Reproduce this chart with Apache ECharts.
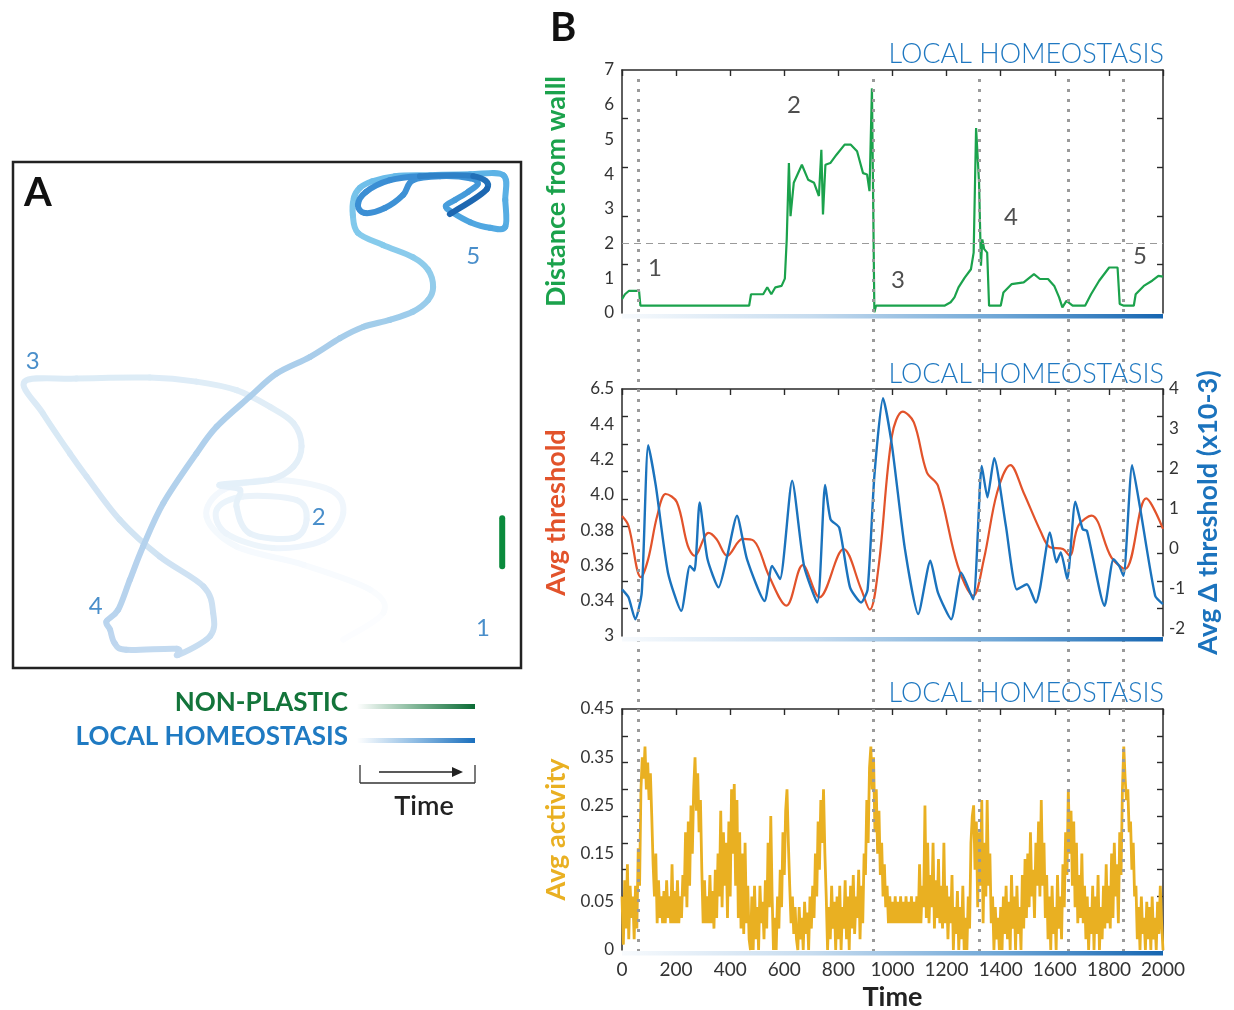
<!DOCTYPE html>
<html><head><meta charset="utf-8">
<script src="https://cdn.jsdelivr.net/npm/echarts@6/dist/echarts.min.js"></script>
<style>html,body{margin:0;padding:0;background:#fff}#c{width:1234px;height:1010px}</style>
</head><body><div id="c"></div>
<script>
// ---------- DATA ----------
// Panel A: trajectory in arena units (0..100), in time order
const trajX = [65.0,72.9,70.3,57.2,44.0,38.1,41.4,51.2,62.4,65.0,61.1,51.2,42.0,40.1,45.3,55.8,57.8,55.2,46.6,44.0,44.7,40.7,50.6,55.2,56.8,55.2,50.6,44.0,36.1,26.9,12.5,2.3,
  5.9,11.2,14.5,21.0,28.9,37.5,39.4,38.8,32.5,32.2,22.3,20.0,19.1,18.4,
  20.7,23.0,25.6,29.6,36.1,40.1,46.6,51.9,58.5,64.4,68.9,74.2,78.7,81.7,82.7,81.7,78.7,72.8,67.9,
  66.9,67.1,68.3,70.7,75.2,82.1,90.0,96.5,96.9,96.9,93.9,90.0,86.4,85.2,87.0,89.6,91.5,90.0,84.1,78.7,76.8,73.2,69.3,67.9,69.5,74.2,80.1,90.6,93.3,86.0];
const trajY = [5.6,10.9,15.5,20.4,24.0,29.9,35.2,37.2,35.2,30.6,25.3,23.7,26.6,31.3,33.9,33.2,29.3,25.7,26.6,31.9,35.2,36.2,37.2,39.8,43.8,48.4,51.6,54.9,56.6,57.4,57.2,56.6,
  50.3,42.4,37.8,29.3,22.0,16.1,10.9,6.3,2.6,3.8,3.6,4.9,7.6,9.2,
  11.5,17.4,24.0,32.6,42.4,47.7,53.6,58.2,61.5,65.2,67.4,68.8,70.4,72.7,75.3,78.7,81.2,83.6,86.0,
  89.5,92.9,94.9,96.2,97.2,97.4,97.6,97.4,92.5,87.2,87.0,88.1,90.1,91.3,92.5,94.1,95.7,96.8,97.2,96.4,93.5,90.9,89.9,91.5,94.1,96.4,97.2,97.2,94.7,89.7];
const plasticX = [96.3,96.3];
const plasticY = [29.6,20.1];
const arenaLabelX = [92.5,60.2,3.9,16.3,90.6];
const arenaLabelY = [7.9,29.8,60.6,12.2,81.4];
const phaseNames = ['1','2','3','4','5'];

// Panel B1: distance from wall
const distT = [0,11,26,63,68,364,368,372,378,470,477,522,537,552,567,590,602,609,617,623,635,665,688,710,728,737,743,752,770,793,823,846,869,891,906,915,924,933,939,1192,1215,1229,1244,1267,1290,1300,1309,1320,1327,1332,1339,1350,1357,1400,1410,1440,1485,1523,1545,1575,1598,1616,1628,1643,1666,1712,1734,1764,1801,1832,1840,1855,1892,1899,1929,1960,1983,2000];
const distV = [0.40,0.54,0.64,0.64,0.21,0.21,0.26,0.21,0.21,0.21,0.54,0.54,0.74,0.54,0.74,0.78,0.99,2.12,4.32,2.79,3.75,4.27,3.84,3.75,3.37,4.70,2.84,4.27,4.32,4.56,4.85,4.85,4.66,4.03,3.99,3.51,6.47,0.02,0.21,0.21,0.31,0.45,0.74,1.02,1.26,1.74,5.33,3.75,1.36,2.12,1.84,1.74,0.21,0.21,0.59,0.83,0.88,1.12,0.98,0.98,0.78,0.45,0.16,0.35,0.21,0.21,0.54,0.93,1.31,1.31,0.26,0.21,0.21,0.54,0.78,0.93,1.07,1.05];
const wallThreshold = 2;
const phaseT = [122,636,1020,1438,1915];
const phaseV = [1.30,5.99,0.95,2.77,1.64];

// Panel B2: avg threshold (left) and avg delta threshold (right)
const thrT = [0,24,70,97,130,162,203,243,268,320,349,389,446,487,543,608,668,730,819,884,916,949,998,1038,1079,1127,1168,1241,1298,1338,1387,1436,1484,1549,1582,1630,1655,1687,1736,1809,1860,1938,2000];
const thrV = [3.88,3.825,3.533,3.637,3.88,4.005,3.958,3.712,3.655,3.784,3.75,3.655,3.75,3.74,3.542,3.372,3.602,3.419,3.693,3.466,3.349,3.599,4.335,4.472,4.411,4.128,4.052,3.599,3.428,3.637,4.015,4.169,4.015,3.788,3.703,3.693,3.655,3.825,3.882,3.646,3.58,3.98,3.807];
const dThrT = [0,24,49,73,97,125,170,219,251,268,287,316,357,389,425,462,527,555,584,629,673,722,751,771,803,843,884,908,933,965,998,1046,1095,1140,1168,1217,1254,1298,1330,1351,1376,1419,1460,1497,1530,1546,1582,1606,1622,1646,1676,1703,1719,1784,1817,1838,1854,1886,1914,1971,2000];
const dThrV = [-1.03,-1.23,-1.78,-1.11,2.59,1.57,-0.61,-1.57,-0.44,-0.56,1.15,-0.27,-0.98,-0.19,0.82,-0.27,-1.32,-0.44,-0.77,1.70,-0.44,-1.36,1.59,0.73,0.52,-0.98,-1.36,-1.03,1.82,3.77,2.58,-0.02,-1.65,-0.31,-1.11,-1.78,-0.61,-1.28,2.07,1.28,2.26,0.57,-1.03,-0.90,-1.36,-0.98,0.40,-0.35,-0.10,-0.77,1.17,0.48,0.44,-1.44,-0.27,-0.44,-0.69,2.09,1.07,-1.19,-1.40];
const thrTickLabels = ['3','0.34','0.36','0.38','4.0','4.2','4.4','6.5'];
const dThrTickLabels = ['-2','-1','0','1','2','3','4'];

// Panel B3: avg activity, sampled every 5 time steps (t = 0..2000)
const actStep = 5;
const actV = [
0.10,0.01,0.13,0.04,0.16,0.02,0.12,0.06,0.10,0.02,
0.12,0.04,0.19,0.12,0.30,0.36,0.32,0.38,0.30,0.35,
0.28,0.33,0.25,0.16,0.10,0.18,0.05,0.13,0.06,0.10,
0.05,0.11,0.05,0.13,0.06,0.10,0.05,0.16,0.05,0.11,
0.05,0.13,0.05,0.10,0.06,0.14,0.10,0.22,0.08,0.24,
0.12,0.27,0.18,0.30,0.36,0.26,0.33,0.22,0.28,0.15,
0.05,0.13,0.05,0.10,0.05,0.14,0.05,0.11,0.04,0.15,
0.06,0.18,0.10,0.26,0.08,0.22,0.12,0.20,0.06,0.24,
0.10,0.30,0.18,0.31,0.12,0.28,0.06,0.22,0.04,0.18,
0.03,0.20,0.05,0.12,0.02,0.00,0.10,0.00,0.12,0.02,
0.08,0.00,0.12,0.05,0.09,0.02,0.13,0.04,0.20,0.08,
0.25,0.10,0.00,0.06,0.00,0.10,0.04,0.15,0.08,0.22,
0.14,0.26,0.30,0.20,0.12,0.05,0.10,0.03,0.08,0.02,
0.00,0.08,0.02,0.06,0.00,0.09,0.03,0.07,0.00,0.10,
0.04,0.12,0.06,0.18,0.10,0.24,0.15,0.28,0.20,0.30,
0.18,0.10,0.00,0.08,0.02,0.12,0.04,0.09,0.00,0.10,
0.02,0.12,0.00,0.08,0.04,0.13,0.02,0.10,0.00,0.12,
0.04,0.14,0.03,0.10,0.06,0.15,0.02,0.12,0.05,0.18,
0.14,0.28,0.20,0.34,0.38,0.30,0.36,0.22,0.30,0.18,
0.26,0.14,0.20,0.10,0.16,0.08,0.12,0.05,0.10,0.05,
0.09,0.05,0.10,0.05,0.09,0.05,0.10,0.05,0.09,0.05,
0.10,0.05,0.09,0.05,0.10,0.05,0.09,0.05,0.10,0.05,
0.16,0.05,0.12,0.08,0.27,0.06,0.20,0.05,0.14,0.08,
0.20,0.04,0.13,0.06,0.17,0.05,0.12,0.04,0.20,0.05,
0.12,0.02,0.10,0.05,0.14,0.00,0.08,0.03,0.11,0.00,
0.08,0.02,0.12,0.00,0.06,0.00,0.10,0.04,0.20,0.25,
0.27,0.15,0.24,0.08,0.22,0.12,0.28,0.05,0.20,0.10,
0.28,0.12,0.18,0.05,0.10,0.00,0.08,0.02,0.06,0.00,
0.08,0.00,0.10,0.03,0.12,0.02,0.09,0.00,0.14,0.04,
0.10,0.00,0.12,0.03,0.08,0.00,0.14,0.04,0.17,0.06,
0.18,0.08,0.22,0.10,0.15,0.06,0.20,0.12,0.24,0.10,
0.28,0.12,0.20,0.06,0.14,0.02,0.10,0.00,0.12,0.03,
0.08,0.00,0.14,0.04,0.10,0.02,0.16,0.08,0.22,0.14,
0.30,0.18,0.26,0.12,0.24,0.08,0.20,0.05,0.14,0.06,
0.18,0.05,0.12,0.02,0.10,0.00,0.08,0.03,0.12,0.00,
0.10,0.03,0.14,0.00,0.08,0.02,0.12,0.04,0.16,0.05,
0.12,0.04,0.18,0.06,0.20,0.10,0.16,0.05,0.22,0.14,
0.30,0.38,0.32,0.28,0.30,0.22,0.24,0.15,0.20,0.10,
0.12,0.02,0.08,0.00,0.10,0.03,0.06,0.00,0.09,0.02,
0.08,0.00,0.10,0.02,0.06,0.00,0.09,0.03,0.12,0.05,
0.00];
const actTickLabels = ['0','0.05','0.15','0.25','0.35','0.45'];

// Vertical phase markers (time)
const markTimes = [60,930,1320,1648,1852];
const timeTicks = ['0','200','400','600','800','1000','1200','1400','1600','1800','2000'];

// ---------- STYLE HELPERS ----------
const FONT = 'Lato, "Noto Sans", sans-serif';
const AX = '#2a2a2a';
const GREEN = '#1ba24c', ORANGE = '#e2532b', BLUE = '#1b73bd', YELLOW = '#e9b022', LH = '#1f78c1';
// colour along the trajectory (by point index) — styling only
const trajStops = [[0,'#fdfeff'],[5,'#f3f8fd'],[31,'#dcebf6'],[45,'#bad4ee'],[55,'#a8cdea'],[64,'#84cbec'],[70,'#62b7e8'],[76,'#4ea6e0'],[82,'#3f93d6'],[91,'#3a8dd3'],[92,'#2474bb'],[94,'#1a62ae']];
function hex(c){return [parseInt(c.substr(1,2),16),parseInt(c.substr(3,2),16),parseInt(c.substr(5,2),16)];}
function colorAt(f){
  for(let i=1;i<trajStops.length;i++){
    if(f<=trajStops[i][0]){
      const a=trajStops[i-1],b=trajStops[i];const u=(f-a[0])/(b[0]-a[0]);
      const ca=hex(a[1]),cb=hex(b[1]);
      return 'rgb('+ca.map((v,k)=>Math.round(v+(cb[k]-v)*u)).join(',')+')';
    }
  }
  return trajStops[trajStops.length-1][1];
}
const n = trajX.length;
function divs(min,max,k){const a=[];for(let i=1;i<k;i++)a.push(min+(max-min)*i/k);return a;}
function lblIdx(v,min,step){return Math.round((v-min)/step);}

const tickInside = (vals)=>({show:true,inside:true,length:6,lineStyle:{color:AX,width:1.4},customValues:vals});
const lineOn = {show:true,onZero:false,lineStyle:{color:AX,width:1.5}};
const lineOff = {show:false,onZero:false};
const lbl = {color:'#333',fontSize:17,fontFamily:FONT,margin:8};
function xPair(g){
  return [
    {gridIndex:g,type:'value',min:0,max:2000,interval:200,position:'bottom',axisLine:lineOff,axisTick:{show:false},axisLabel:{show:false},splitLine:{show:false}},
    {gridIndex:g,type:'value',min:0,max:2000,interval:200,position:'top',axisLine:lineOn,axisTick:{show:true,inside:true,length:6,lineStyle:{color:AX,width:1.4}},axisLabel:{show:false},splitLine:{show:false}}
  ];
}
const x3 = xPair(3);
x3[0].axisLabel = {show:true,color:'#333',fontSize:19,fontFamily:FONT,margin:10,formatter:(v)=>timeTicks[Math.round(v/200)]};
x3[0].name='Time'; x3[0].nameLocation='middle'; x3[0].nameGap=34;
x3[0].nameTextStyle={color:'#222',fontSize:27,fontWeight:'bold',fontFamily:FONT};
const nameFont = (c)=>({color:c,fontSize:27,fontWeight:'bold',fontFamily:FONT});

// smooth trajectory piece between point i and i+1 (Catmull-Rom through data points)
function trajPiece(params, api){
  const i = params.dataIndex;
  if(i>=n-1) return null;
  const P = k => { k=Math.max(0,Math.min(n-1,k)); return api.coord([trajX[k],trajY[k]]); };
  const p0=P(i-1),p1=P(i),p2=P(i+1),p3=P(i+2), s=1/6;
  return {type:'bezierCurve',
    shape:{x1:p1[0],y1:p1[1],x2:p2[0],y2:p2[1],
      cpx1:p1[0]+(p2[0]-p0[0])*s, cpy1:p1[1]+(p2[1]-p0[1])*s,
      cpx2:p2[0]-(p3[0]-p1[0])*s, cpy2:p2[1]-(p3[1]-p1[1])*s},
    style:{stroke:colorAt(i+0.5),lineWidth:6,fill:'none',lineCap:'round',lineJoin:'round'}};
}

const gridBase = {containLabel:false,outerBoundsMode:'none'};
const option = {
  animation:false,
  textStyle:{fontFamily:FONT},
  grid:[
    Object.assign({left:13,top:162,width:508,height:506,show:true,borderColor:'#222',borderWidth:2.5,backgroundColor:'transparent'},gridBase),
    Object.assign({left:622,top:70,width:541,height:243},gridBase),
    Object.assign({left:622,top:389,width:541,height:247},gridBase),
    Object.assign({left:622,top:709,width:541,height:241},gridBase),
    Object.assign({left:622,top:73,width:541,height:879},gridBase)
  ],
  xAxis:[
    {gridIndex:0,type:'value',min:0,max:100,show:false},
    ...xPair(1), ...xPair(2), ...x3,
    {gridIndex:4,type:'value',min:0,max:2000,show:false}
  ],
  yAxis:[
    {gridIndex:0,type:'value',min:0,max:100,show:false},
    {gridIndex:1,type:'value',min:0,max:7,interval:1,position:'left',axisLine:lineOn,axisTick:tickInside(divs(0,7,5)),axisLabel:lbl,splitLine:{show:false},
     name:'Distance from walll',nameLocation:'middle',nameGap:52,nameRotate:90,nameTextStyle:nameFont(GREEN)},
    {gridIndex:1,type:'value',min:0,max:7,interval:1,position:'right',axisLine:lineOn,axisTick:tickInside(divs(0,7,5)),axisLabel:{show:false},splitLine:{show:false}},
    {gridIndex:2,type:'value',min:3.2,max:4.6,interval:0.2,position:'left',axisLine:lineOn,axisTick:tickInside(divs(3.2,4.6,9)),
     axisLabel:Object.assign({},lbl,{formatter:(v)=>thrTickLabels[lblIdx(v,3.2,0.2)]}),splitLine:{show:false},
     name:'Avg threshold',nameLocation:'middle',nameGap:52,nameRotate:90,nameTextStyle:nameFont(ORANGE)},
    {gridIndex:2,type:'value',min:-2.2,max:4,position:'right',axisLine:lineOn,axisTick:tickInside(divs(-2.2,4,9)),
     axisLabel:Object.assign({},lbl,{margin:6,customValues:[-2,-1,0,1,2,3,4],formatter:(v)=>dThrTickLabels[Math.round(v+2)]}),splitLine:{show:false},
     name:'Avg Δ threshold (x10-3)',nameLocation:'middle',nameGap:32,nameRotate:90,nameTextStyle:nameFont(BLUE)},
    {gridIndex:3,type:'value',min:0,max:0.45,position:'left',axisLine:lineOn,axisTick:tickInside(divs(0,0.45,9)),
     axisLabel:Object.assign({},lbl,{customValues:[0,0.09,0.18,0.27,0.36,0.45],formatter:(v)=>actTickLabels[lblIdx(v,0,0.09)]}),splitLine:{show:false},
     name:'Avg activity',nameLocation:'middle',nameGap:52,nameRotate:90,nameTextStyle:nameFont(YELLOW)},
    {gridIndex:3,type:'value',min:0,max:0.45,position:'right',axisLine:lineOn,axisTick:tickInside(divs(0,0.45,9)),axisLabel:{show:false},splitLine:{show:false}},
    {gridIndex:4,type:'value',min:0,max:1,show:false}
  ],
  series:[
    // overlay vertical dotted markers
    {type:'scatter',xAxisIndex:7,yAxisIndex:7,data:[[0,-1]],symbolSize:0,silent:true,z:1,
     markLine:{silent:true,symbol:['none','none'],label:{show:false},
       lineStyle:{color:'#9a9a9a',type:[3,7],width:3,cap:'butt'},
       data:markTimes.map(t=>({xAxis:t}))}},
    // Panel A
    {type:'custom',coordinateSystem:'cartesian2d',xAxisIndex:0,yAxisIndex:0,
     data:trajX.map((x,i)=>[x,trajY[i]]),encode:{x:0,y:1},renderItem:trajPiece,clip:false,z:3},
    {type:'line',xAxisIndex:0,yAxisIndex:0,data:plasticX.map((x,i)=>[x,plasticY[i]]),symbol:'none',
     lineStyle:{color:'#0a8a3c',width:6,cap:'round'},z:3},
    {type:'scatter',xAxisIndex:0,yAxisIndex:0,symbolSize:1,itemStyle:{color:'rgba(0,0,0,0)'},
     data:arenaLabelX.map((x,i)=>({name:phaseNames[i],value:[x,arenaLabelY[i]]})),
     label:{show:true,position:'inside',formatter:'{b}',color:'#1b72bd',fontSize:24,fontFamily:FONT},z:4},
    // B1
    {type:'line',xAxisIndex:1,yAxisIndex:1,data:distT.map((t,i)=>[t,distV[i]]),symbol:'none',
     lineStyle:{color:GREEN,width:2.2},z:3,
     markLine:{silent:true,symbol:['none','none'],label:{show:false},lineStyle:{color:'#9a9a9a',type:[7,5],width:1.2},data:[{yAxis:wallThreshold}]}},
    {type:'scatter',xAxisIndex:1,yAxisIndex:1,symbolSize:1,itemStyle:{color:'rgba(0,0,0,0)'},
     data:phaseT.map((t,i)=>({name:phaseNames[i],value:[t,phaseV[i]]})),
     label:{show:true,position:'inside',formatter:'{b}',color:'#222',fontSize:24,fontFamily:FONT},z:4},
    // B2
    {type:'line',xAxisIndex:3,yAxisIndex:3,data:thrT.map((t,i)=>[t,thrV[i]]),symbol:'none',smooth:0.35,
     lineStyle:{color:ORANGE,width:2.2},z:3},
    {type:'line',xAxisIndex:3,yAxisIndex:4,data:dThrT.map((t,i)=>[t,dThrV[i]]),symbol:'none',smooth:0.2,
     lineStyle:{color:BLUE,width:2.4},z:4},
    // B3
    {type:'line',xAxisIndex:5,yAxisIndex:5,data:actV.map((v,i)=>[i*actStep,v]),symbol:'none',step:'end',
     lineStyle:{color:YELLOW,width:2.8},z:3}
  ],
  graphic:[]
};

const G = option.graphic;
function txt(x,y,text,font,fill,align,valign){G.push({type:'text',x:x,y:y,z:100,style:{text:text,font:font,fill:fill,textAlign:align||'left',textVerticalAlign:valign||'middle'}});}
function grad(x,y,w,h,stops){G.push({type:'rect',z:50,shape:{x:x,y:y,width:w,height:h},style:{fill:new echarts.graphic.LinearGradient(0,0,1,0,stops.map(s=>({offset:s[0],color:s[1]})))}});}
function ln(x1,y1,x2,y2,c,w){G.push({type:'line',z:100,shape:{x1:x1,y1:y1,x2:x2,y2:y2},style:{stroke:c,lineWidth:w}});}

txt(24,193,'A','bold 40px '+FONT,'#111','left');
txt(550,28,'B','bold 40px '+FONT,'#111','left');
[54,374,693].forEach(y=>txt(1164,y,'LOCAL HOMEOSTASIS','300 27px '+FONT,LH,'right'));
const blueBar = [[0,'#f7fafd'],[0.35,'#c7dcef'],[0.7,'#6ea6d6'],[1,'#1565b1']];
[314,637,951].forEach(y=>grad(622,y,541,4.5,blueBar));
// Panel A legend
txt(348,703,'NON-PLASTIC','bold 26px '+FONT,'#13743a','right');
txt(348,737,'LOCAL HOMEOSTASIS','bold 26px '+FONT,'#1f7ac2','right');
grad(357,704,118,5,[[0,'#ffffff'],[0.5,'#7fb596'],[1,'#0b6b35']]);
grad(357,738,118,5,[[0,'#ffffff'],[0.5,'#8dbbe3'],[1,'#1a6fbd']]);
ln(360,765,360,783,'#333',1.3); ln(360,783,475,783,'#333',1.3); ln(475,783,475,765,'#333',1.3);
ln(379,772,456,772,'#222',1.4);
G.push({type:'polygon',z:100,shape:{points:[[452,767],[463,772],[452,777]]},style:{fill:'#222'}});
txt(424,806,'Time','600 27px '+FONT,'#222','center');

const chart = echarts.init(document.getElementById('c'),null,{renderer:'canvas'});
chart.setOption(option);
</script></body></html>
